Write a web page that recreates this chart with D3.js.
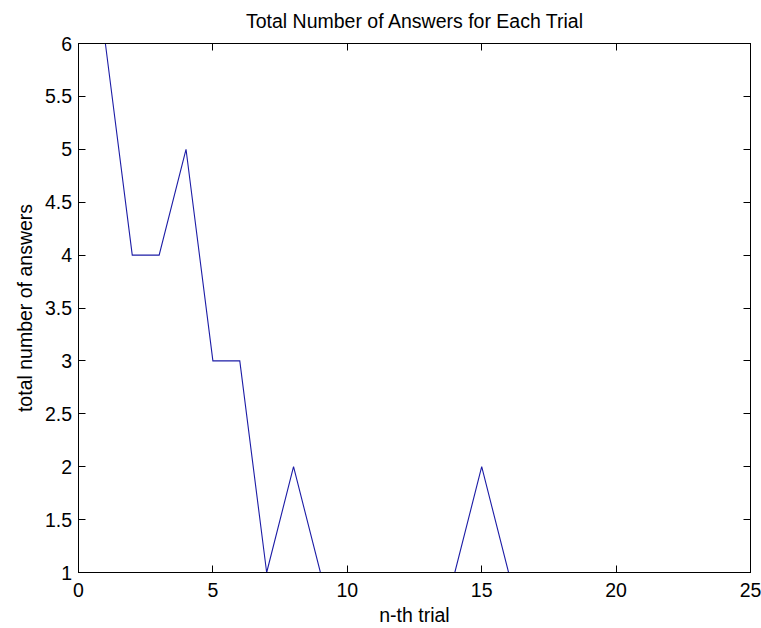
<!DOCTYPE html>
<html><head><meta charset="utf-8">
<script src="https://cdn.jsdelivr.net/npm/d3@7"></script>
<style>html,body{margin:0;padding:0;background:#fff;}svg{display:block;}text{font-family:"Liberation Sans",Arial,sans-serif;fill:#000;}</style>
</head><body>
<svg id="c" width="761" height="628"></svg>
<script>
const trials = d3.range(1, 26);
const answers = [6,4,4,5,3,3,1,2,1,1,1,1,1,1,2,1,1,1,1,1,1,1,1,1,1];
const xTicks = [0,5,10,15,20,25];
const yTicks = [1,1.5,2,2.5,3,3.5,4,4.5,5,5.5,6];
const title = "Total Number of Answers for Each Trial";
const xLabel = "n-th trial";
const yLabel = "total number of answers";

const L = 78.5, R = 750.5, T = 43.5, B = 572.5;
const svg = d3.select("#c");
const x = d3.scaleLinear().domain([0,25]).range([L,R]);
const y = d3.scaleLinear().domain([1,6]).range([B,T]);
const fs = 19.5;

const line = d3.line().x((d,i)=>x(trials[i])).y(d=>y(d));
svg.append("path").datum(answers).attr("d", line)
  .attr("fill","none").attr("stroke","#1c1ca6").attr("stroke-width",1.1);

const tl = 7;
const g = svg.append("g").attr("stroke","#000").attr("stroke-width",1);
xTicks.forEach(t=>{
  const xp = Math.round(x(t)-0.5)+0.5;
  g.append("line").attr("x1",xp).attr("x2",xp).attr("y1",B).attr("y2",B-tl);
  g.append("line").attr("x1",xp).attr("x2",xp).attr("y1",T).attr("y2",T+tl);
});
yTicks.forEach(t=>{
  const yp = Math.round(y(t)-0.5)+0.5;
  g.append("line").attr("x1",L).attr("x2",L+tl).attr("y1",yp).attr("y2",yp);
  g.append("line").attr("x1",R).attr("x2",R-tl).attr("y1",yp).attr("y2",yp);
});
g.append("rect").attr("x",L).attr("y",T).attr("width",R-L).attr("height",B-T).attr("fill","none");

xTicks.forEach(t=>{
  svg.append("text").attr("x",x(t)).attr("y",597).attr("text-anchor","middle").attr("font-size",fs).text(t);
});
yTicks.forEach(t=>{
  svg.append("text").attr("x",72).attr("y",y(t)).attr("dy","0.36em").attr("text-anchor","end").attr("font-size",fs).text(t);
});
svg.append("text").attr("x",(L+R)/2).attr("y",28).attr("text-anchor","middle").attr("font-size",fs).text(title);
svg.append("text").attr("x",(L+R)/2).attr("y",622).attr("text-anchor","middle").attr("font-size",fs).text(xLabel);
svg.append("text").attr("transform",`translate(32,${(T+B)/2}) rotate(-90)`).attr("text-anchor","middle").attr("font-size",fs).text(yLabel);
</script>
</body></html>
